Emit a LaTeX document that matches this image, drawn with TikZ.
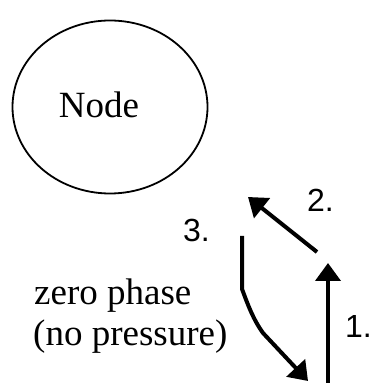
\documentclass[tikz,border=0pt]{standalone}
\usepackage{fontspec}
\setmainfont{Liberation Serif}
\newfontfamily\numfont{Liberation Sans}
\usetikzlibrary{arrows.meta,shapes.geometric}
\begin{document}
\begin{tikzpicture}[x=1pt,y=1pt,
  lbl/.style={font=\fontsize{37}{40}\selectfont, inner sep=0pt},
  num/.style={font=\numfont\fontsize{32}{36}\selectfont, inner sep=0pt},
  arr/.style={line width=4pt, -{Triangle[width=25pt,length=18pt]}}]
\useasboundingbox (0,0) rectangle (373,383);
\node[draw, ellipse, line width=1.8pt, minimum width=195pt, minimum height=173pt, inner sep=0pt] (n) at (110,276) {};
\node[lbl] (nl) at (99,278) {Node};
\node[lbl, anchor=base west] (z) at (34,78) {zero phase};
\node[lbl, anchor=base west] (p) at (33,37) {(no pressure)};
\node[num, anchor=base west] (t2) at (307,171) {2.};
\node[num, anchor=base west] (t3) at (183,141) {3.};
\node[num, anchor=base west] (t1) at (345,45) {1.};
\coordinate (a1s) at (328,0);
\coordinate (a1e) at (328,120);
\coordinate (a2s) at (317,131);
\coordinate (a2e) at (248,186);
\coordinate (a3s) at (242,147);
\coordinate (a3m) at (242,94);
\coordinate (a3n) at (263,50);
\coordinate (a3e) at (308,2);
\draw[arr] (a1s) -- (a1e);
\draw[arr] (a2s) -- (a2e);
\draw[arr] (a3s) -- (a3m) .. controls (248,78) and (253,64) .. (a3n) -- (a3e);
\end{tikzpicture}
\end{document}
